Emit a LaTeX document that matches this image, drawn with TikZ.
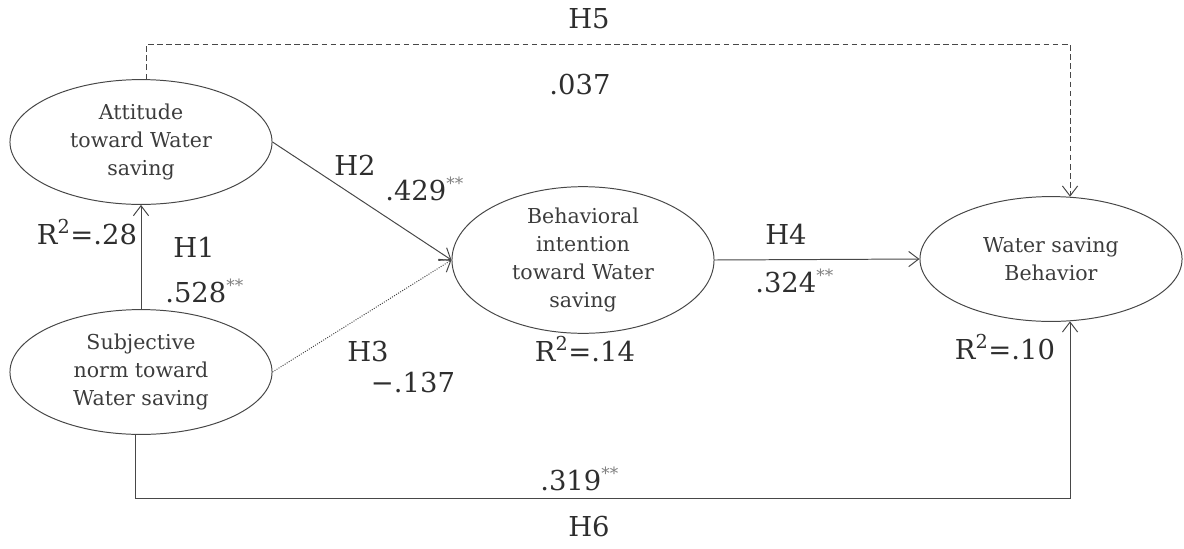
\documentclass[tikz,border=0pt]{standalone}
\usepackage{fontspec}
\setmainfont{DejaVu Serif}
\usetikzlibrary{arrows.meta,shapes.geometric}
\definecolor{ink}{HTML}{2E2E2E}
\definecolor{soft}{HTML}{3C3C3C}
\definecolor{rule}{HTML}{474747}
\newcommand{\sig}{\textsuperscript{\color{gray}\fontsize{12}{12}\selectfont **}}

\begin{document}
\begin{tikzpicture}[x=0.025cm,y=-0.025cm,>={Straight Barb[length=2.5mm,width=3.8mm]},
  construct/.style={ellipse,draw=rule,line width=0.7pt,minimum width=6.55cm,minimum height=3.12cm,inner sep=0pt,align=center,text=soft,font=\fontsize{14.6}{19.8}\selectfont},
  coef/.style={text=ink,font=\fontsize{19.5}{22}\selectfont,inner sep=0pt},
  path/.style={draw=rule,line width=0.7pt}]
\useasboundingbox (0,0) rectangle (1184,548);
\node[construct] (att) at (141,142) {Attitude\\toward Water\\saving};
\node[construct] (subj) at (141,372) {Subjective\\norm toward\\Water saving};
\node[construct] (bi) at (583,260) {Behavioral\\intention\\toward Water\\saving};
\node[construct] (wsb) at (1051,259) {Water saving\\Behavior};
\coordinate (top) at (0,44);
\coordinate (bot) at (0,498);
% paths
\draw[path,->] (subj.north)--(att.south);
\draw[path,->] (att.east)--(bi.west);
\draw[path,->,densely dotted] (subj.east)--(bi.west);
\draw[path,->] (bi.east)--(wsb.west);
\draw[path,->,dash pattern=on 4pt off 2.5pt] (att.85)--(att.85 |- top) -| (wsb.73);
\draw[path,->] (subj.265)--(subj.265 |- bot) -| (wsb.287);
% labels
\node[coef] (h5) at (589,19) {H5};
\node[coef] (b5) at (580,85) {.037};
\node[coef] (h2) at (355,165) {H2};
\node[coef,anchor=base west] (b2) at (385,200) {.429\sig};
\node[coef] (h1) at (194,247) {H1};
\node[coef,anchor=base west] (b1) at (165,302) {.528\sig};
\node[coef,anchor=base] (r1) at (87,244) {R\textsuperscript{2}=.28};
\node[coef] (h3) at (368,352) {H3};
\node[coef] (b3) at (413,383) {−.137};
\node[coef,anchor=base] (r2) at (585,361) {R\textsuperscript{2}=.14};
\node[coef] (h4) at (786,234) {H4};
\node[coef,anchor=base west] (b4) at (755,292) {.324\sig};
\node[coef,anchor=base] (r3) at (1005,359) {R\textsuperscript{2}=.10};
\node[coef,anchor=base west] (b6) at (540,490) {.319\sig};
\node[coef] (h6) at (589,527) {H6};
\end{tikzpicture}
\end{document}
